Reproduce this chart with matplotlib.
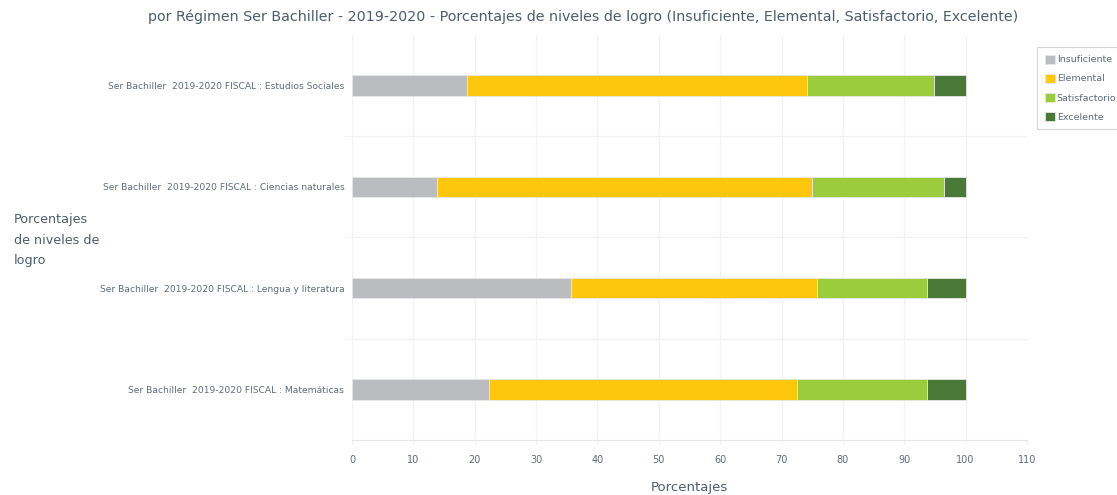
import matplotlib
matplotlib.use('Agg')
import matplotlib.pyplot as plt
import numpy as np

categories = [
    'Ser Bachiller  2019-2020 FISCAL : Estudios Sociales',
    'Ser Bachiller  2019-2020 FISCAL : Ciencias naturales',
    'Ser Bachiller  2019-2020 FISCAL : Lengua y literatura',
    'Ser Bachiller  2019-2020 FISCAL : Matemáticas',
]
levels = ['Insuficiente', 'Elemental', 'Satisfactorio', 'Excelente']
insuficiente = [18.8, 13.9, 35.7, 22.3]
elemental = [55.3, 61.0, 40.0, 50.2]
satisfactorio = [20.8, 21.5, 18.0, 21.2]
excelente = [5.1, 3.6, 6.3, 6.3]
xticks = list(range(0, 111, 10))

colors = ['#bbbcc0', '#ffc60e', '#9bcc3c', '#4a7836']
text_color = '#4d5d6b'
label_color = '#5f6b78'


def output():
    plt.rcParams['font.family'] = ['DejaVu Sans']
    fig = plt.figure(figsize=(11.17, 4.95), dpi=100)
    ax = fig.add_axes([352 / 1117, 1 - 440 / 495, 675 / 1117, 405 / 495])

    y = np.arange(len(categories))
    left = np.zeros(len(categories))
    series = [insuficiente, elemental, satisfactorio, excelente]
    for name, vals, c in zip(levels, series, colors):
        ax.barh(y, vals, left=left, height=0.2, color=c, label=name,
                edgecolor='#e8e8e8', linewidth=0.6, zorder=3)
        left += np.array(vals)

    ax.set_xlim(0, 110)
    ax.set_ylim(3.5, -0.5)
    ax.set_xticks(xticks)
    ax.set_xticklabels([str(t) for t in xticks], fontsize=7, color=label_color)
    ax.set_yticks(y)
    ax.set_yticklabels(categories, fontsize=6.6, color=label_color)
    ax.set_yticks([0.5, 1.5, 2.5], minor=True)

    ax.grid(axis='x', color='#f2f2f2', linewidth=0.9, zorder=0)
    ax.grid(axis='y', which='minor', color='#f2f2f2', linewidth=0.9, zorder=0)
    ax.tick_params(axis='y', which='major', length=0, pad=5.5)
    ax.tick_params(axis='y', which='minor', length=6, color='#f2f2f2')
    ax.tick_params(axis='x', length=3, color='#eeeeee', pad=8)
    for side in ['top', 'right', 'left']:
        ax.spines[side].set_visible(False)
    ax.spines['bottom'].set_color('#e6e6e6')

    ax.set_xlabel('Porcentajes', fontsize=9.5, color=text_color, labelpad=11)
    fig.text(14 / 1117, 1 - 240 / 495, 'Porcentajes\nde niveles de\nlogro',
             fontsize=9.2, color=text_color, ha='left', va='center',
             linespacing=1.75)

    fig.suptitle('por Régimen Ser Bachiller - 2019-2020 - Porcentajes de niveles de logro '
                 '(Insuficiente, Elemental, Satisfactorio, Excelente)',
                 x=583 / 1117, y=1 - 17 / 495, va='center', fontsize=10.3,
                 color=text_color)

    leg = fig.legend(loc='upper left', bbox_to_anchor=(1037 / 1117, 1 - 47 / 495),
                     fontsize=6.8, frameon=True, fancybox=False, handlelength=1.1,
                     handleheight=1.1, handletextpad=0.2, borderpad=0.8,
                     labelspacing=1.0, borderaxespad=0)
    leg.get_frame().set_edgecolor('#cccccc')
    leg.get_frame().set_linewidth(0.8)
    for t in leg.get_texts():
        t.set_color(label_color)

    fig.savefig('out.png', dpi=100)


if __name__ == '__main__':
    output()
